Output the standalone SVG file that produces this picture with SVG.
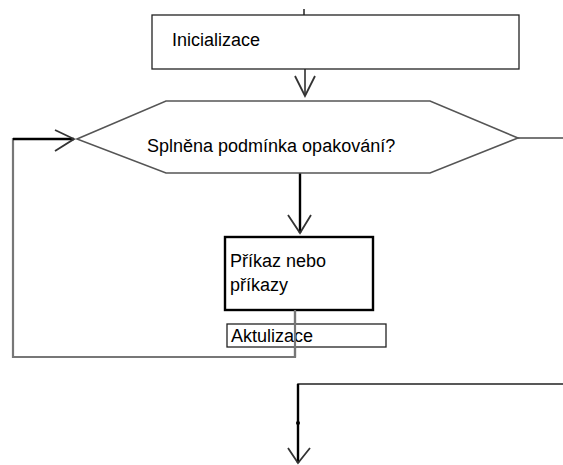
<svg xmlns="http://www.w3.org/2000/svg" width="563" height="465" viewBox="0 0 563 465">
<style>
text{font-family:"Liberation Sans",Arial,sans-serif;font-size:18px;fill:#000}
.box{fill:#fff;stroke:#222;stroke-width:1.3}
.thick{fill:#fff;stroke:#000;stroke-width:2.4}
.hex{fill:#fff;stroke:#555;stroke-width:1.6}
.blk{fill:none;stroke:#000;stroke-width:2.4}
.gry{fill:none;stroke:#777;stroke-width:2.2}
.thin{fill:none;stroke:#222;stroke-width:1.5}
.head{fill:none;stroke:#333;stroke-width:1.8}
</style>
<rect width="563" height="465" fill="#fff"/>
<g id="connectors">
<line x1="304" y1="9" x2="304" y2="17" class="thin"/>
<line x1="305" y1="69" x2="305" y2="96" class="thin"/>
<polyline points="295,76 305,96 315,76" class="head"/>
<line x1="518" y1="138" x2="563" y2="138" class="gry"/>
<line x1="300" y1="173" x2="300" y2="233" class="blk"/>
<polyline points="288,215 300,233 311,215" class="head"/>
<polyline points="295,310 295,357 13,357 13,139 74,139" class="gry"/>
<line x1="13" y1="139" x2="74" y2="139" class="blk"/>
<polyline points="55,130 74,139 55,151" class="head"/>
<polyline points="563,384 298,384 298,463" class="thin"/>
<line x1="298" y1="384" x2="298" y2="463" class="blk"/>
<circle cx="298" cy="423" r="2"/>
<polyline points="288,448 298,463 310,448" class="head"/>
</g>
<g id="init">
<rect x="152" y="15" width="367" height="54" class="box"/>
<text x="172" y="46">Inicializace</text>
</g>
<g id="condition">
<polygon points="77,139 166,101 430,101 518,138 430,173 166,173" class="hex"/>
<text x="147" y="152">Splněna podmínka opakování?</text>
</g>
<g id="command">
<rect x="225" y="237" width="148" height="73" class="thick"/>
<text x="230" y="267">Příkaz nebo</text>
<text x="230" y="291">příkazy</text>
</g>
<g id="update">
<rect x="227" y="324" width="159" height="23" class="box"/>
<text x="231" y="342">Aktulizace</text>
</g>
<line x1="295" y1="310" x2="295" y2="357" class="gry"/>
</svg>
